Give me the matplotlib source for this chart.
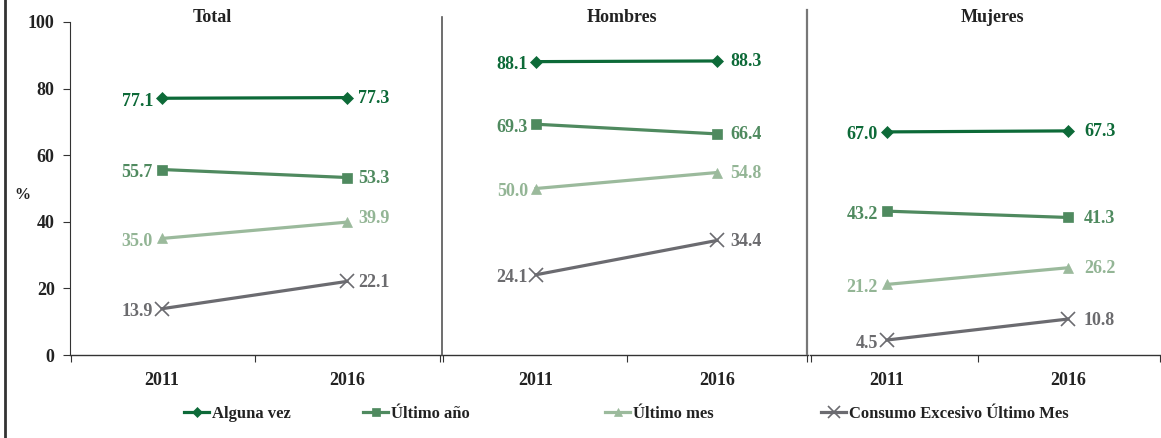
import matplotlib
matplotlib.use("Agg")
import matplotlib.pyplot as plt
from matplotlib.lines import Line2D

plt.rcParams['font.family'] = ['Liberation Serif', 'DejaVu Serif']
plt.rcParams['font.weight'] = 'bold'

years = ["2011", "2016"]
panels = ["Total", "Hombres", "Mujeres"]
series_names = ["Alguna vez", "Último año", "Último mes", "Consumo Excesivo Último Mes"]

alguna_vez = {"Total": [77.1, 77.3], "Hombres": [88.1, 88.3], "Mujeres": [67.0, 67.3]}
ultimo_anio = {"Total": [55.7, 53.3], "Hombres": [69.3, 66.4], "Mujeres": [43.2, 41.3]}
ultimo_mes = {"Total": [35.0, 39.9], "Hombres": [50.0, 54.8], "Mujeres": [21.2, 26.2]}
consumo_exc = {"Total": [13.9, 22.1], "Hombres": [24.1, 34.4], "Mujeres": [4.5, 10.8]}

y_ticks = [0, 20, 40, 60, 80, 100]

series = [alguna_vez, ultimo_anio, ultimo_mes, consumo_exc]
colors = ["#0d6a38", "#4f8a5f", "#9bba9c", "#6b6b70"]
label_colors = ["#0d6a38", "#4f8a5f", "#93b595", "#6b6b6e"]
markers = ["D", "s", "^", "x"]
msizes = [6, 7.5, 7.5, 10]

W, H = 1161, 438
fig = plt.figure(figsize=(W / 100, H / 100), dpi=100)

def fx(px):
    return px / W

def fy(py):
    return 1 - py / H

y0, y100 = 355, 22
panel_px = [(70, 441, 162, 347), (442, 808, 536, 717), (810, 1161, 887, 1068)]
right_gap = [11, 13, 16]
left_gap = [9, 8, 9]
title_x = [212, 622, 992]

for i, name in enumerate(panels):
    l, r, p0, p1 = panel_px[i]
    ax = fig.add_axes([fx(l), fy(y0), (r - l) / W, (y0 - y100) / H])
    sc = p1 - p0
    xmin, xmax = (l - p0) / sc, (r - p0) / sc
    ax.set_xlim(xmin, xmax)
    ax.set_ylim(0, 100)
    xs = list(range(len(years)))
    for k, s in enumerate(series):
        vals = s[name]
        ax.plot(xs, vals, color=colors[k], lw=2.3, marker=markers[k], ms=msizes[k],
                mew=1.2 if markers[k] == "x" else 0.5, mec=colors[k], mfc=colors[k],
                clip_on=False, zorder=3)
        ax.annotate(f"{vals[0]:.1f}", (xs[0], vals[0]), xytext=(-left_gap[i], -3),
                    textcoords="offset pixels", ha="right", va="center",
                    fontsize=13, fontweight="bold", color=label_colors[k])
        dy = -1
        if name == "Total" and k == 2:
            dy = 4
        ax.annotate(f"{vals[1]:.1f}", (xs[1], vals[1]), xytext=(right_gap[i], dy),
                    textcoords="offset pixels", ha="left", va="center",
                    fontsize=13, fontweight="bold", color=label_colors[k])
    ax.set_xticks([xmin + 0.003, 0.5, xmax - 0.003])
    ax.set_xticklabels([])
    ax.set_xticks(xs, minor=True)
    ax.set_xticklabels(years, minor=True, fontsize=13, fontweight="bold", color="#222222")
    ax.tick_params(axis="x", which="major", length=5, direction="out", color="#333333")
    ax.tick_params(axis="x", which="minor", length=0, pad=12)
    for sp in ["top", "right"]:
        ax.spines[sp].set_visible(False)
    ax.spines["bottom"].set_color("#333333")
    ax.spines["bottom"].set_linewidth(1.0)
    if i == 0:
        ax.set_yticks(y_ticks)
        ax.set_yticklabels([str(t) for t in y_ticks], fontsize=13, fontweight="bold", color="#222222")
        ax.tick_params(axis="y", length=5, direction="out", color="#333333", pad=6)
        ax.spines["left"].set_color("#333333")
    else:
        ax.set_yticks([])
        ax.spines["left"].set_visible(False)
    ax.patch.set_alpha(0)

for i, name in enumerate(panels):
    fig.text(fx(title_x[i]), fy(17), name, ha="center", va="center", fontsize=13,
             fontweight="bold", color="#222222")

fig.text(fx(22), fy(195), "%", ha="center", va="center", fontsize=11.5, fontweight="bold", color="#222222")

fig.add_artist(Line2D([fx(441.5), fx(441.5)], [fy(17), fy(355)], color="#555555", lw=1.2))
fig.add_artist(Line2D([fx(807), fx(807)], [fy(10), fy(354)], color="#777777", lw=1.6))
fig.add_artist(Line2D([fx(5), fx(5)], [0, 1], color="#333333", lw=2))

leg_pos = [191, 370, 612, 828]
for k in range(4):
    h = Line2D([], [], color=colors[k], lw=2.3, marker=markers[k], ms=msizes[k] * 0.8,
               mec=colors[k], mfc=colors[k], mew=1.2 if markers[k] == "x" else 0.5)
    fig.legend([h], [series_names[k]], loc="center left",
               bbox_to_anchor=(fx(leg_pos[k]) - 0.006, fy(414)), frameon=False,
               handlelength=1.5, handletextpad=0.15, borderpad=0, borderaxespad=0,
               prop={"family": "Liberation Serif", "weight": "bold", "size": 12},
               labelcolor="#222222")

fig.savefig("out.png", dpi=100)
